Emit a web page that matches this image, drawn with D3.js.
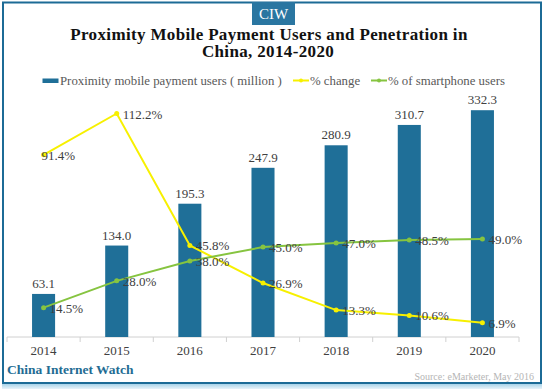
<!DOCTYPE html>
<html>
<head>
<meta charset="utf-8">
<script src="https://cdnjs.cloudflare.com/ajax/libs/d3/7.8.5/d3.min.js"></script>
<style>
  html, body { margin: 0; padding: 0; background: #fff; }
  svg { display: block; }
</style>
</head>
<body>
<script>
// data
var years = ["2014", "2015", "2016", "2017", "2018", "2019", "2020"];
var users = [63.1, 134.0, 195.3, 247.9, 280.9, 310.7, 332.3];
var pctChange = [91.4, 112.2, 45.8, 26.9, 13.3, 10.6, 6.9];
var pctSmartphone = [14.5, 28.0, 38.0, 45.0, 47.0, 48.5, 49.0];

var W = 544, H = 389;
var serif = "'Liberation Serif', 'DejaVu Serif', serif";
var blue = "#1f6f98", yellow = "#f7f000", green = "#86c440";

var svg = d3.select("body").append("svg")
    .attr("width", W)
    .attr("height", H);

// bottom shadow
var grad = svg.append("defs").append("linearGradient")
    .attr("id", "shadow").attr("x1", 0).attr("y1", 0).attr("x2", 0).attr("y2", 1);
grad.append("stop").attr("offset", "0%").attr("stop-color", "#9ccde6");
grad.append("stop").attr("offset", "100%").attr("stop-color", "#e8f3f9");
svg.append("rect").attr("x", 2).attr("y", 383).attr("width", 540).attr("height", 6)
    .attr("fill", "url(#shadow)");

// frame
svg.append("rect")
    .attr("x", 3).attr("y", 2.5)
    .attr("width", 538).attr("height", 380.5)
    .attr("fill", "#fff")
    .attr("stroke", "#1c6b96")
    .attr("stroke-width", 2);

// CIW badge
svg.append("rect").attr("x", 252).attr("y", 2).attr("width", 43).attr("height", 23).attr("fill", "#2a76a1");
svg.append("text").attr("x", 273.5).attr("y", 19).attr("text-anchor", "middle")
    .attr("font-family", serif).attr("font-size", 15).attr("fill", "#fff").text("CIW");

// title
var title = svg.append("text").attr("text-anchor", "middle")
    .attr("font-family", serif).attr("font-weight", "bold").attr("font-size", 17)
    .attr("letter-spacing", 0.35).attr("fill", "#111");
title.append("tspan").attr("x", 269).attr("y", 39.5).text("Proximity Mobile Payment Users and Penetration in");
title.append("tspan").attr("x", 268).attr("y", 57).text("China, 2014-2020");

// scales
var x = d3.scaleBand().domain(years).range([7, 519]).padding(0);
var y = d3.scaleLinear().domain([0, 400]).range([337, 64]);
var y2 = d3.scaleLinear().domain([0, 120]).range([336.5, 98]);
var barW = x.bandwidth() * 0.315;
var cx = function (d, i) { return x(years[i]) + x.bandwidth() / 2; };

// axis
var axis = svg.append("g").attr("transform", "translate(0,337)");
axis.append("line").attr("x1", 7).attr("x2", 519).attr("stroke", "#d0d0d0");
var edges = years.map(function (d) { return x(d); }).concat([x.range()[1]]);
axis.selectAll(".tk").data(edges).enter().append("line")
    .attr("x1", function (d) { return d; }).attr("x2", function (d) { return d; })
    .attr("y1", 0).attr("y2", 5).attr("stroke", "#d0d0d0");
axis.selectAll(".lbl").data(years).enter().append("text")
    .attr("x", function (d) { return x(d) + x.bandwidth() / 2; })
    .attr("y", 17.5)
    .attr("text-anchor", "middle")
    .attr("font-family", serif).attr("font-size", 13).attr("fill", "#404040")
    .text(function (d) { return d; });

// bars
svg.selectAll(".bar").data(users).enter().append("rect")
    .attr("x", function (d, i) { return cx(d, i) - barW / 2; })
    .attr("y", function (d) { return y(d); })
    .attr("width", barW)
    .attr("height", function (d) { return 337 - y(d); })
    .attr("fill", blue);
svg.selectAll(".barlbl").data(users).enter().append("text")
    .attr("x", cx)
    .attr("y", function (d) { return y(d) - 6; })
    .attr("text-anchor", "middle")
    .attr("font-family", serif).attr("font-size", 13).attr("fill", "#404040")
    .text(function (d) { return d.toFixed(1); });

// lines
function drawLine(vals, color) {
    var line = d3.line().x(function (d, i) { return cx(d, i); }).y(function (d) { return y2(d); });
    svg.append("path").datum(vals).attr("d", line)
        .attr("fill", "none").attr("stroke", color).attr("stroke-width", 2);
    svg.selectAll(null).data(vals).enter().append("circle")
        .attr("cx", cx).attr("cy", function (d) { return y2(d); })
        .attr("r", 2.5).attr("fill", color);
    svg.selectAll(null).data(vals).enter().append("text")
        .attr("x", function (d, i) { return cx(d, i) + (color === yellow && i === 0 ? -2 : 6); })
        .attr("y", function (d, i) { return y2(d) + (color === yellow && i === 0 ? 5.5 : 5); })
        .attr("font-family", serif).attr("font-size", 13).attr("fill", "#404040")
        .text(function (d) { return d.toFixed(1) + "%"; });
}
drawLine(pctChange, yellow);
drawLine(pctSmartphone, green);

// legend
var lg = svg.append("g").attr("font-family", serif).attr("font-size", 12.8).attr("fill", "#595959");
lg.append("rect").attr("x", 42.5).attr("y", 78.5).attr("width", 16).attr("height", 4.5).attr("fill", blue);
lg.append("text").attr("x", 60).attr("y", 84.5).text("Proximity mobile payment users ( million )");
[[293, yellow, "% change"], [371, green, "% of smartphone users"]].forEach(function (e) {
    lg.append("line").attr("x1", e[0]).attr("x2", e[0] + 16).attr("y1", 80.5).attr("y2", 80.5)
        .attr("stroke", e[1]).attr("stroke-width", 2);
    lg.append("circle").attr("cx", e[0] + 8).attr("cy", 80.5).attr("r", 2).attr("fill", e[1]);
    lg.append("text").attr("x", e[0] + 17).attr("y", 84.5).text(e[2]);
});

// footer
svg.append("text").attr("x", 7).attr("y", 374)
    .attr("font-family", serif).attr("font-weight", "bold").attr("font-size", 13.5).attr("fill", "#236c93")
    .text("China Internet Watch");
svg.append("text").attr("x", 534).attr("y", 380).attr("text-anchor", "end")
    .attr("font-family", serif).attr("font-size", 10).attr("fill", "#b5b5b5")
    .text("Source: eMarketer, May 2016");
</script>
</body>
</html>
